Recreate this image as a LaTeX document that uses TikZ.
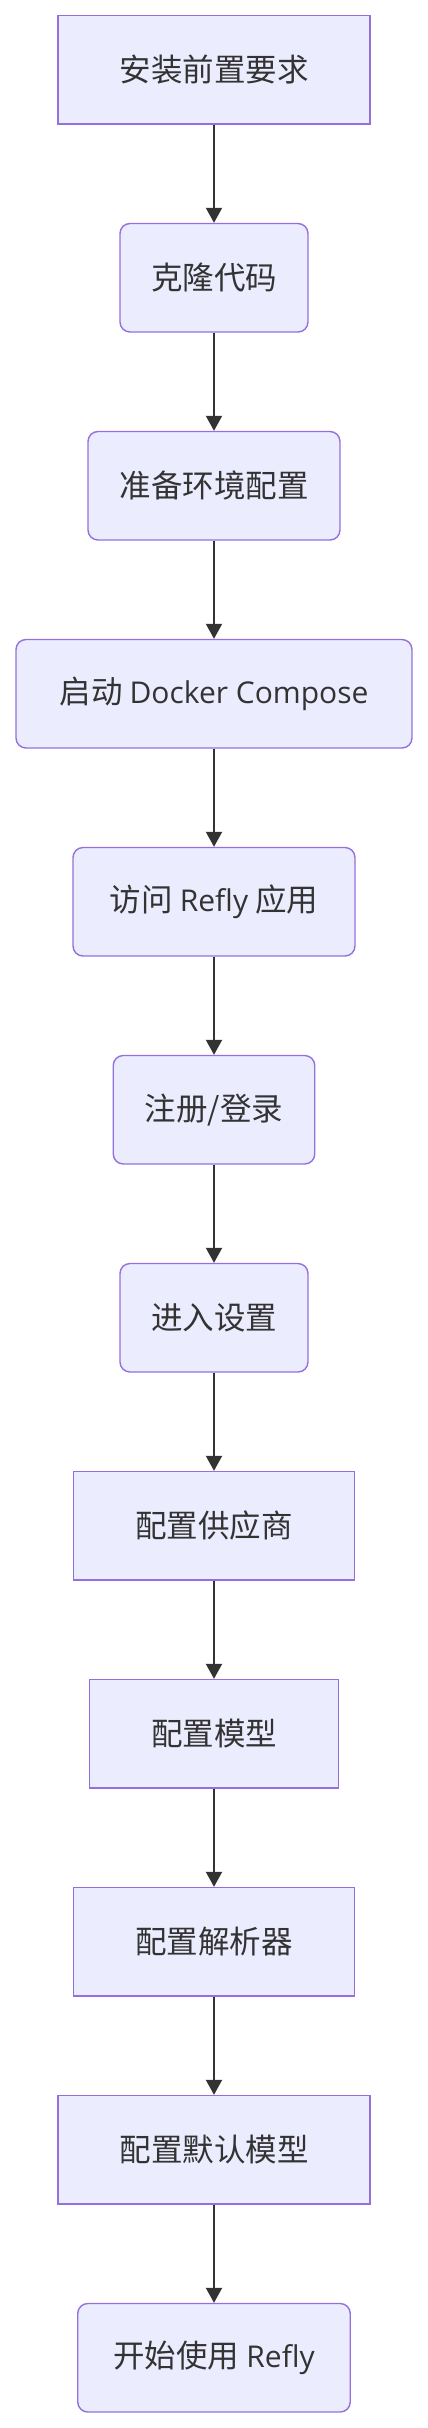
\documentclass[tikz,border=0pt]{standalone}
\usepackage{fontspec}
\setmainfont{Noto Sans CJK SC}
\newfontfamily\latfont{Open Sans}
\usetikzlibrary{arrows.meta}
\definecolor{boxfill}{HTML}{ECECFF}
\definecolor{boxline}{HTML}{9370DB}
\definecolor{ink}{HTML}{333333}
\tikzset{
  base/.style={draw=boxline, fill=boxfill, line width=1.4pt, inner sep=0pt,
    minimum height=108.5pt, text=ink, font=\fontsize{31.5}{38}\selectfont},
  sharpbox/.style={base},
  roundbox/.style={base, rounded corners=10pt},
  flow/.style={draw=ink, line width=2pt, -{Triangle[length=15pt,width=16pt]}}
}
\begin{document}
\begin{tikzpicture}[x=1pt,y=-1pt]
\useasboundingbox (0,0) rectangle (428,2428);
\node[sharpbox, minimum width=312pt]   (n1)  at (214, 69.75) {安装前置要求};
\node[roundbox, minimum width=188pt]   (n2)  at (214, 277.75) {克隆代码};
\node[roundbox, minimum width=252pt]   (n3)  at (214, 485.75) {准备环境配置};
\node[roundbox, minimum width=396pt]   (n4)  at (214, 693.75) {启动 {\latfont\fontsize{30}{38}\selectfont Docker Compose}};
\node[roundbox, minimum width=282pt]   (n5)  at (214, 901.75) {访问 {\latfont\fontsize{30}{38}\selectfont Refly} 应用};
\node[roundbox, minimum width=201.5pt] (n6)  at (214, 1109.75) {注册/登录};
\node[roundbox, minimum width=188pt]   (n7)  at (214, 1317.75) {进入设置};
\node[sharpbox, minimum width=280.5pt] (n8)  at (214, 1525.75) {配置供应商};
\node[sharpbox, minimum width=248.5pt] (n9)  at (214, 1733.75) {配置模型};
\node[sharpbox, minimum width=280.5pt] (n10) at (214, 1941.75) {配置解析器};
\node[sharpbox, minimum width=312pt]   (n11) at (214, 2149.75) {配置默认模型};
\node[roundbox, minimum width=272.5pt] (n12) at (214, 2357.75) {开始使用 {\latfont\fontsize{30}{38}\selectfont Refly}};
\foreach \a/\b in {n1/n2,n2/n3,n3/n4,n4/n5,n5/n6,n6/n7,n7/n8,n8/n9,n9/n10,n10/n11,n11/n12}
  \draw[flow] (\a.south) -- (\b.north);
\end{tikzpicture}
\end{document}
